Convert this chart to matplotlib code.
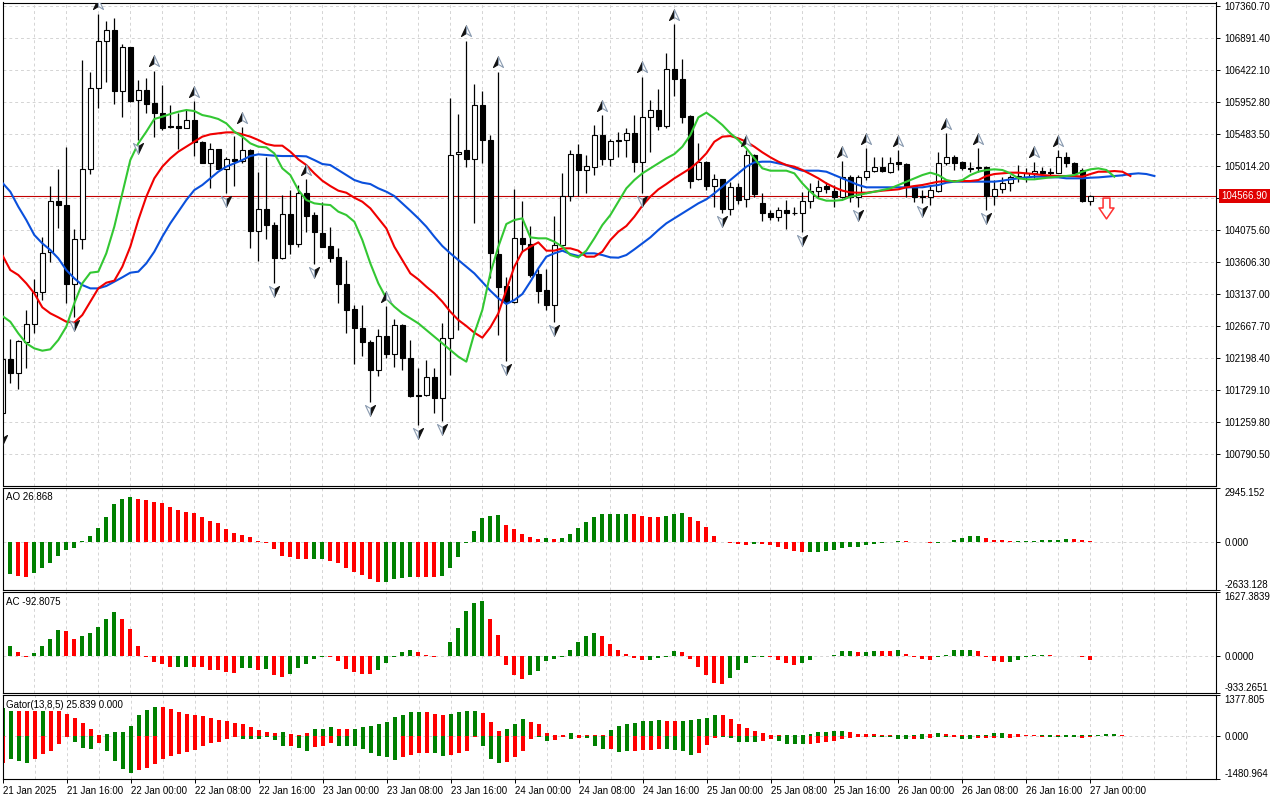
import numpy as np
import matplotlib
matplotlib.use("Agg")
import matplotlib.pyplot as plt
from matplotlib.path import Path
from matplotlib.transforms import offset_copy, blended_transform_factory

plt.rcParams['font.family'] = ['Liberation Sans', 'DejaVu Sans']

# BTCUSD H1, bar 0 = 21 Jan 2025 08:00, last bar = 27 Jan 2025 00:00
opens = [101382, 102174, 101978, 102433, 102692, 103157, 103743, 104491, 104433, 103274,
         103934, 104961, 106149, 106838, 106999, 106105, 106750, 105973, 106119, 105929,
         105782, 105591, 105591, 105567, 105684, 105366, 105058, 105254, 104970, 105117,
         105088, 105239, 104056, 104374, 104139, 103665, 104301, 103870, 104609, 104291,
         104022, 103836, 103675, 103274, 102912, 102629, 102423, 102022, 102511, 102247,
         102677, 102189, 101651, 101646, 101910, 101602, 102482, 105181, 105239, 105107,
         105899, 105386, 103719, 103250, 103020, 103949, 103870, 103425, 103191, 102971,
         103851, 104574, 105181, 104951, 105000, 105464, 105107, 105376, 105386, 105489,
         105073, 105723, 105831, 105601, 106427, 106280, 105743, 104814, 105073, 104721,
         104814, 104374, 104697, 104521, 105171, 104472, 104315, 104266, 104364, 104325,
         104315, 104496, 104643, 104716, 104648, 104550, 104853, 104560, 104853, 104941,
         105000, 104926, 105068, 105039, 104716, 104569, 104560, 104648, 105049, 105137,
         105073, 104980, 104975, 105000, 104569, 104667, 104765, 104848, 104853, 104902,
         104936, 104926, 104912, 105146, 105049, 104951, 104501]
highs = [102189, 102467, 102458, 102898, 103352, 103963, 104716, 104965, 105288, 104081,
         106564, 106393, 107239, 107131, 107180, 106799, 106760, 106271, 106295, 106403,
         106197, 105899, 105782, 105831, 105963, 105376, 105342, 105264, 105146, 105449,
         105577, 105254, 104917, 105141, 104193, 104579, 104657, 104726, 104814, 104335,
         104477, 104110, 103802, 103631, 102971, 102971, 102458, 102619, 102956, 102766,
         102687, 102458, 102042, 102164, 102052, 102712, 106002, 105772, 106848, 106212,
         106114, 105464, 106393, 103377, 104672, 104496, 104130, 103494, 103494, 104276,
         104912, 105244, 105332, 105171, 105611, 105757, 105401, 105503, 105572, 105757,
         106320, 105977, 106139, 106672, 107092, 106579, 105752, 105342, 105083, 104887,
         104824, 104780, 104755, 105244, 105181, 104609, 104364, 104413, 104512, 104413,
         104633, 104755, 104804, 104780, 104731, 105083, 104877, 104877, 105269, 105146,
         105137, 105146, 105244, 105049, 104726, 104657, 104731, 105220, 105489, 105171,
         105088, 105073, 105269, 105009, 104804, 104853, 104877, 105024, 104975, 105073,
         105000, 104975, 105244, 105220, 105073, 104975, 104584]
lows = [101113, 101822, 101734, 102052, 102555, 103044, 103597, 104100, 103005, 102800,
        103787, 104887, 105865, 106246, 105914, 105733, 105953, 105391, 105782, 105440,
        105537, 105572, 105264, 105562, 105161, 105049, 104682, 104961, 104618, 104721,
        105049, 103802, 103621, 103934, 103298, 103641, 103719, 103826, 104037, 103572,
        103817, 103606, 103005, 102555, 102101, 102223, 101553, 101934, 102189, 102057,
        102017, 101617, 101211, 101636, 101382, 101275, 101944, 102604, 105000, 104169,
        105049, 103362, 102531, 102150, 103005, 103753, 103386, 103005, 102898, 102726,
        103817, 104496, 104569, 104618, 104877, 105024, 105014, 105146, 105137, 104926,
        104618, 105210, 105537, 105562, 106041, 105645, 104682, 104804, 104657, 104413,
        104315, 104291, 104452, 104413, 104560, 104208, 104218, 104208, 104081, 104291,
        104046, 104389, 104535, 104609, 104413, 104535, 104486, 104413, 104804, 104926,
        104926, 104912, 104951, 104560, 104486, 104462, 104437, 104633, 105024, 104951,
        104951, 104926, 104926, 104364, 104437, 104609, 104648, 104780, 104780, 104829,
        104877, 104877, 104902, 105000, 104877, 104486, 104437]
closes = [102174, 101978, 102443, 102692, 103157, 103729, 104491, 104433, 103274, 103934,
          104961, 106149, 106838, 106999, 106105, 106750, 105968, 106119, 105924, 105792,
          105572, 105577, 105572, 105684, 105366, 105058, 105254, 104970, 105117, 105088,
          105239, 104056, 104374, 104139, 103665, 104301, 103870, 104609, 104281, 104046,
          103826, 103665, 103274, 102902, 102629, 102423, 102022, 102511, 102247, 102677,
          102189, 101636, 101641, 101910, 101602, 102482, 105171, 105220, 105107, 105899,
          105386, 103729, 103230, 103020, 103949, 103861, 103411, 103181, 102971, 103851,
          104574, 105181, 104951, 105009, 105464, 105107, 105376, 105386, 105489, 105073,
          105723, 105831, 105601, 106427, 106280, 105733, 104794, 105073, 104721, 104814,
          104374, 104697, 104512, 105171, 104599, 104315, 104266, 104364, 104315, 104315,
          104496, 104643, 104706, 104667, 104550, 104853, 104560, 104853, 104941, 105000,
          104941, 105058, 105039, 104706, 104560, 104560, 104657, 105049, 105137, 105058,
          104975, 104970, 105000, 104569, 104667, 104765, 104853, 104858, 104902, 104936,
          104902, 104902, 105146, 105049, 104902, 104501, 104566.90]

# Alligator (13,8,5), drawn with their forward shifts
jaw = [104765, 104633, 104413, 104218, 103998, 103875, 103778, 103655, 103484, 103362,
       103264, 103215, 103215, 103250, 103313, 103377, 103445, 103460, 103582, 103753,
       103973, 104169, 104340, 104511, 104657, 104731, 104829, 104926, 105000, 105049,
       105097, 105156, 105181, 105171, 105161, 105156, 105156, 105156, 105151, 105097,
       105039, 105024, 104951, 104877, 104804, 104765, 104745, 104682, 104633, 104569,
       104462, 104354, 104242, 104120, 103973, 103836, 103729, 103631, 103533, 103435,
       103308, 103181, 103069, 102986, 103044, 103132, 103313, 103509, 103680, 103729,
       103768, 103719, 103690, 103729, 103729, 103704, 103670, 103665, 103704, 103787,
       103875, 103963, 104071, 104169, 104242, 104315, 104389, 104462, 104521, 104609,
       104706, 104804, 104902, 105000, 105063, 105073, 105073, 105049, 105024, 104975,
       104941, 104941, 104941, 104926, 104877, 104829, 104780, 104731, 104697, 104697,
       104697, 104697, 104697, 104697, 104697, 104697, 104716, 104731, 104765, 104780,
       104780, 104780, 104780, 104780, 104780, 104794, 104814, 104829, 104843, 104853,
       104853, 104843, 104843, 104829, 104829, 104829, 104838, 104843, 104853, 104863,
       104873, 104892, 104902, 104892, 104863]
teeth = [103704, 103484, 103411, 103289, 103142, 102937, 102849, 102790, 102726, 102712,
         102824, 103020, 103215, 103298, 103328, 103533, 103826, 104218, 104560, 104829,
         105000, 105122, 105220, 105293, 105366, 105440, 105474, 105489, 105503, 105503,
         105474, 105440, 105391, 105332, 105308, 105308, 105220, 105107, 105024, 104902,
         104794, 104716, 104648, 104618, 104545, 104486, 104389, 104242, 104095, 103826,
         103631, 103435, 103347, 103240, 103142, 103020, 102873, 102751, 102663, 102565,
         102492, 102643, 102849, 103191, 103533, 103753, 103826, 103890, 103768, 103768,
         103802, 103802, 103768, 103680, 103680, 103753, 103924, 104046, 104130, 104266,
         104428, 104560, 104667, 104745, 104829, 104902, 104975, 105073, 105195, 105366,
         105440, 105449, 105415, 105366, 105293, 105210, 105137, 105073, 105024, 105000,
         104951, 104892, 104829, 104755, 104697, 104648, 104623, 104618, 104618, 104633,
         104648, 104657, 104667, 104697, 104716, 104731, 104755, 104780, 104789, 104789,
         104789, 104789, 104804, 104863, 104892, 104902, 104912, 104912, 104902, 104892,
         104877, 104868, 104863, 104863, 104863, 104853, 104892, 104926, 104926, 104936,
         104926, 104863]
lips = [102810, 102726, 102555, 102409, 102335, 102301, 102321, 102458, 102653, 102995,
        103289, 103445, 103460, 103729, 104120, 104609, 105097, 105342, 105513, 105699,
        105733, 105772, 105806, 105831, 105816, 105757, 105733, 105699, 105635, 105513,
        105440, 105342, 105293, 105283, 105195, 104975, 104877, 104657, 104511, 104462,
        104447, 104437, 104340, 104291, 104193, 103924, 103582, 103289, 103069, 102946,
        102849, 102775, 102702, 102604, 102506, 102409, 102311, 102213, 102140, 102556,
        102898, 103435, 103826, 104159, 104218, 104242, 103963, 103949, 103949, 103900,
        103826, 103704, 103670, 103768, 103949, 104144, 104291, 104486, 104682, 104804,
        104902, 104975, 105049, 105122, 105185, 105293, 105464, 105723, 105792, 105709,
        105611, 105489, 105391, 105269, 105122, 104975, 104941, 104941, 104941, 104902,
        104755, 104633, 104535, 104501, 104501, 104511, 104560, 104584, 104609, 104633,
        104657, 104682, 104731, 104780, 104829, 104877, 104912, 104877, 104804, 104780,
        104804, 104877, 104926, 104951, 104961, 104951, 104902, 104829, 104814, 104814,
        104829, 104843, 104853, 104863, 104877, 104926, 104961, 104975, 104951, 104853]

fractal_up = [12, 19, 24, 30, 38, 48, 58, 62, 75, 80, 84, 93, 105, 108, 112, 118, 122, 129, 132]
fractal_dn = [0, 9, 17, 28, 34, 39, 46, 52, 55, 63, 69, 80, 90, 100, 107, 115, 123]
signal_bar = 138
signal_price = 104393

time_labels = ['21 Jan 2025', '21 Jan 16:00', '22 Jan 00:00', '22 Jan 08:00', '22 Jan 16:00',
               '23 Jan 00:00', '23 Jan 08:00', '23 Jan 16:00', '24 Jan 00:00', '24 Jan 08:00',
               '24 Jan 16:00', '25 Jan 00:00', '25 Jan 08:00', '25 Jan 16:00', '26 Jan 00:00',
               '26 Jan 08:00', '26 Jan 16:00', '27 Jan 00:00']
price_levels = [107360.70, 106891.40, 106422.10, 105952.80, 105483.50, 105014.20, 104544.90,
                104075.60, 103606.30, 103137.00, 102667.70, 102198.40, 101729.10, 101259.80, 100790.50]
last_price = 104566.90

ao = [-1878, -1768, -1878, -1914, -1732, -1458, -1148, -766, -456, -365,
      36, 328, 766, 1367, 2042, 2315, 2461, 2333, 2279, 2188,
      2096, 1914, 1732, 1641, 1550, 1367, 1148, 1003, 711, 492,
      365, 273, 55, -91, -419, -766, -857, -930, -966, -966,
      -966, -1039, -1148, -1422, -1641, -1823, -2060, -2188, -2188, -2060,
      -2005, -1914, -1914, -1914, -1914, -1859, -1422, -857, -91, 602,
      1313, 1422, 1477, 930, 711, 438, 273, 128, 219, 164,
      219, 438, 729, 1057, 1367, 1531, 1531, 1531, 1531, 1495,
      1422, 1367, 1367, 1422, 1531, 1586, 1367, 1148, 820, 328,
      -36, -91, -146, -201, -146, -146, -201, -310, -419, -529,
      -583, -583, -547, -510, -456, -365, -310, -273, -182, -128,
      -73, -36, 36, 36, -18, -36, -91, -55, -18, 91,
      219, 310, 310, 201, 91, 73, 18, 5, 18, 36,
      91, 91, 91, 146, 146, 91, 26.868]
ao_cols = ("ggrrgggggg" "gggggggrrr" "rrrrrrrrrr" "rrrrrrrrrg" "grrrrrrrgg" "ggrrrggggg"
           "gggrrrrrgr" "gggggggggr" "rrrgggrrrr" "rrrrgrrrrr" "rggggggggg" "gggrrrrggg"
           "gggrrrrggg" "ggggrrr")

ac = [253, 270, 101, -17, 84, 253, 447, 658, 632, 430,
      506, 590, 733, 936, 1113, 936, 683, 253, -17, -152,
      -194, -278, -278, -278, -278, -278, -354, -354, -396, -422,
      -295, -295, -354, -320, -481, -531, -447, -295, -194, -59,
      -8, -25, -126, -320, -405, -438, -447, -354, -169, -8,
      101, 169, 101, 42, -8, 17, 354, 708, 1138, 1340,
      1391, 936, 531, -228, -481, -573, -481, -371, -126, -67,
      -17, 169, 354, 506, 582, 506, 303, 152, 51, -42,
      -101, -93, -34, -25, 126, 101, -67, -278, -481, -674,
      -708, -556, -354, -177, -17, -8, -17, -93, -169, -228,
      -169, -93, 8, 17, 42, 126, 126, 101, 101, 143,
      126, 126, 152, 67, -8, -67, -84, -25, 42, 152,
      169, 169, 126, -17, -126, -143, -143, -84, -17, 42,
      42, 42, 17, 17, 17, -8, -92.8075]
ac_cols = ("ggrrggggrr" "gggggrrrrr" "rrggrrrrrr" "ggrgrrgggg" "grrrrrrggg" "ggrrrggggg"
           "grrrrrgggg" "gggggrrrrr" "rggggrrrrr" "rgggggrrrr" "gggggggrgg" "rrgrrrrggg"
           "ggrrrrgggg" "grrrrrr")

gator_up = [957, 854, 854, 854, 854, 854, 854, 854, 740, 615,
            444, 216, 23, 68, 137, 137, 342, 695, 877, 991,
            968, 923, 809, 752, 706, 672, 615, 547, 513, 444,
            387, 308, 194, 114, 91, 137, 57, 34, 80, 239,
            239, 285, 239, 216, 239, 285, 319, 387, 478, 626,
            706, 809, 809, 809, 752, 718, 752, 809, 854, 854,
            786, 478, 171, 239, 410, 581, 478, 410, 103, 34,
            34, 80, 34, 34, 34, 34, 205, 342, 410, 444,
            513, 513, 547, 513, 513, 513, 547, 581, 615, 718,
            718, 581, 410, 273, 171, 103, 34, 23, 23, 5,
            11, 57, 137, 137, 171, 171, 137, 68, 68, 68,
            34, 11, 11, 11, 34, 68, 68, 103, 68, 34,
            11, 11, 34, 34, 103, 103, 68, 68, 34, 11,
            34, 23, 11, 11, 11, 34, 34, 34, 68, 68, 34]
gator_up_cols = ("ggrrrgrrrr" "rrrggggggg" "rrrrrrrrrr" "rrrrrgrrrg" "ggrrgggggg" "gggrrrgggg"
                 "rrrgggrrrr" "rgrrrrgggg" "gggrrggggg" "rrrrrrrrgg" "ggggggrrrr" "rrggggrgrr"
                 "rgggggrrrr" "ggrgggggggr")
gator_dn = [-923, -797, -854, -923, -797, -638, -513, -296, -57, -228,
            -433, -467, -262, -513, -854, -1150, -1264, -1173, -1093, -968,
            -809, -695, -638, -547, -490, -342, -262, -228, -114, -34,
            -114, -114, -125, -57, -148, -342, -342, -433, -513, -399,
            -342, -262, -342, -342, -342, -467, -581, -695, -740, -831,
            -740, -672, -604, -604, -604, -706, -672, -604, -535, -57,
            -364, -809, -945, -911, -740, -535, -125, -34, -194, -159,
            -57, -125, -91, -91, -364, -467, -467, -570, -535, -535,
            -501, -501, -467, -467, -501, -535, -672, -604, -330, -91,
            -34, -91, -205, -228, -228, -194, -125, -194, -296, -296,
            -296, -296, -262, -228, -194, -125, -91, -57, -34, -34,
            -34, -57, -125, -125, -125, -125, -91, -34, -57, -34,
            -125, -125, -91, -91, -91, -91, -91, -46, -23, -23,
            -34, -34, -57, -57, -57, -91, -34, -23, -11, 0, 0]
gator_dn_cols = ("rgggrrrrrg" "ggrggggrrr" "rrrrrrrrrr" "ggggggrggr" "rrgggggggg" "rrrrggrrrr"
                 "gggrrrrggr" "rgrgggrggr" "rrrggggrrr" "gggggrrggg" "grrrrrrrrg" "ggggrgrggr"
                 "ggrrrgrrgg" "rggggrrrggg")

ao_lim = (-2633.128, 2945.152)
ac_lim = (-933.2651, 1627.3839)
gator_lim = (-1480.964, 1377.805)

GREEN = '#008000'
RED = '#ff0000'
GRID = '#d4d4d4'
colmap = {'g': GREEN, 'r': RED}

W, H = 1280, 800
XMIN, XMAX = 0.05, 151.7


def rect(top, bottom, left=2.7, right=1216):
    return [left / W, 1 - bottom / H, (right - left) / W, (bottom - top) / H]


fig = plt.figure(figsize=(12.8, 8), dpi=100, facecolor='white')
ax = fig.add_axes(rect(2.5, 485.5))
ax_ao = fig.add_axes(rect(487.7, 589.7))
ax_ac = fig.add_axes(rect(592, 693.3))
ax_g = fig.add_axes(rect(695.3, 779))


def style(a, ylim):
    a.set_xlim(XMIN, XMAX)
    a.set_ylim(*ylim)
    for s in a.spines.values():
        s.set_linewidth(0.8)
        s.set_color('black')
    for gx in range(4, int(XMAX) + 1, 4):
        a.axvline(gx, color=GRID, lw=0.7, ls=(0, (3, 3)), zorder=0)
    a.yaxis.tick_right()
    a.tick_params(axis='y', direction='out', length=3, width=0.7, labelsize=7, pad=3)
    a.tick_params(axis='x', bottom=False, labelbottom=False)


# ---- main price chart ----
style(ax, (100324.0, 107407.6))
for p in price_levels:
    ax.axhline(p, color=GRID, lw=0.7, ls=(0, (3, 3)), zorder=0)
ax.set_yticks(price_levels)
ax.set_yticklabels(['' if abs(p - last_price) < 100 else '%.2f' % p for p in price_levels])

n = len(closes)
idx = np.arange(n)
o = np.array(opens, dtype=float)
c = np.array(closes, dtype=float)
hi = np.array(highs, dtype=float)
lo = np.array(lows, dtype=float)

ax.axhline(last_price, color='#c00000', lw=0.8, zorder=1)
ax.vlines(idx, lo, hi, color='black', lw=0.9, zorder=2)
body_h = np.maximum(np.abs(c - o), 6)
body_b = np.minimum(o, c)
face = ['white' if cc >= oo else 'black' for oo, cc in zip(o, c)]
ax.bar(idx, body_h, bottom=body_b, width=0.56, color=face, edgecolor='black', linewidth=0.8, zorder=2)

ax.plot(np.arange(len(jaw)), jaw, color='#0a50dc', lw=1.5, zorder=3)
ax.plot(np.arange(len(teeth)), teeth, color='#f00000', lw=1.5, zorder=3)
ax.plot(np.arange(len(lips)), lips, color='#33c733', lw=1.5, zorder=3)

# fractal darts: dark half + light half, down darts are the up ones turned round
left_half = [(0, 1), (-0.9, -0.9), (0, -0.35), (0, 1)]
right_half = [(0, 1), (0, -0.35), (0.9, -0.9), (0, 1)]
turn = lambda pts: [(-x, -y) for x, y in pts]
up_tr = offset_copy(ax.transData, fig=fig, x=0, y=9.5, units='dots')
dn_tr = offset_copy(ax.transData, fig=fig, x=0, y=-8, units='dots')
fu = np.array(fractal_up)
fd = np.array(fractal_dn)
for pts, fc, ec in [(left_half, '#111111', '#111111'), (right_half, 'white', '#8a9bb0')]:
    ax.plot(fu, hi[fu], ls='none', marker=Path(pts, closed=True), ms=8, mfc=fc, mec=ec,
            mew=0.8, transform=up_tr, zorder=4)
    ax.plot(fd, lo[fd], ls='none', marker=Path(turn(pts), closed=True), ms=8, mfc=fc, mec=ec,
            mew=0.8, transform=dn_tr, zorder=4)

# sell signal arrow
sig = [(-0.33, 1), (0.33, 1), (0.33, 0.05), (0.72, 0.05), (0, -1), (-0.72, 0.05), (-0.33, 0.05), (-0.33, 1)]
ax.plot([signal_bar], [signal_price], ls='none', marker=Path(sig, closed=True), ms=15,
        mfc='white', mec='#ff3030', mew=1.1, zorder=4)

tr = blended_transform_factory(ax.transAxes, ax.transData)
ax.text(1.0045, last_price, '%.2f' % last_price, transform=tr, ha='left', va='center', fontsize=7,
        color='white', clip_on=False, zorder=5,
        bbox=dict(boxstyle='square,pad=0.22', fc='#e00000', ec='none'))


# ---- oscillators ----
def panel(a, lim, fmt, title, title_y):
    style(a, lim)
    a.axhline(0, color=GRID, lw=0.7, ls=(0, (3, 3)), zorder=1)
    a.set_yticks([lim[0], 0, lim[1]])
    a.set_yticklabels([fmt % lim[0], fmt % 0, fmt % lim[1]])
    labs = a.get_yticklabels()
    labs[0].set_va('bottom')
    labs[2].set_va('top')
    a.text(0.0027, title_y, title, transform=a.transAxes, ha='left', va='top', fontsize=7, zorder=5)


panel(ax_ao, ao_lim, '%.3f', 'AO %.3f' % ao[-1], 0.955)
ax_ao.bar(np.arange(len(ao)), ao, width=0.5, color=[colmap[k] for k in ao_cols], zorder=2)

panel(ax_ac, ac_lim, '%.4f', 'AC %.4f' % ac[-1], 0.955)
ax_ac.bar(np.arange(len(ac)), ac, width=0.5, color=[colmap[k] for k in ac_cols], zorder=2)

panel(ax_g, gator_lim, '%.3f', 'Gator(13,8,5) 25.839 0.000', 0.945)
ax_g.bar(np.arange(len(gator_up)), gator_up, width=0.5, color=[colmap[k] for k in gator_up_cols], zorder=2)
ax_g.bar(np.arange(len(gator_dn)), gator_dn, width=0.5, color=[colmap[k] for k in gator_dn_cols], zorder=2)

ax_g.set_xticks(np.arange(0, n, 8))
ax_g.set_xticklabels(time_labels, ha='left', fontsize=7)
ax_g.tick_params(axis='x', bottom=True, labelbottom=True, direction='out', length=3, width=0.7, pad=2)

fig.savefig('out.png', dpi=100, facecolor='white')
